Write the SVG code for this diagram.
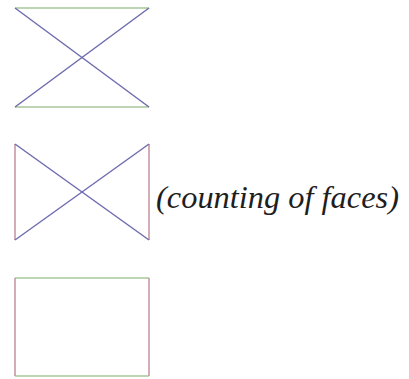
<svg xmlns="http://www.w3.org/2000/svg" width="409" height="379" viewBox="0 0 409 379">
<style>
.g{stroke:#a9c79a;stroke-width:1.7;fill:none}
.b{stroke:#6f6db0;stroke-width:1.5;fill:none}
.r{stroke:#c4929c;stroke-width:1.5;fill:none}
.t{font-family:'Liberation Serif','Times New Roman',Times,serif;font-style:italic;font-size:31px;fill:#1e1e1e}
</style>
<rect width="409" height="379" fill="#fff"/>
<g id="shape1">
<line class="g" x1="15" y1="8" x2="149" y2="8"/>
<line class="g" x1="15" y1="107" x2="149" y2="107"/>
<line class="b" x1="15" y1="8" x2="149" y2="107"/>
<line class="b" x1="149" y1="8" x2="15" y2="107"/>
</g>
<g id="shape2">
<line class="r" x1="15" y1="144" x2="15" y2="240"/>
<line class="r" x1="149" y1="144" x2="149" y2="240"/>
<line class="b" x1="15" y1="144" x2="149" y2="240"/>
<line class="b" x1="149" y1="144" x2="15" y2="240"/>
</g>
<g id="shape3">
<line class="g" x1="15" y1="278" x2="149" y2="278"/>
<line class="g" x1="15" y1="376" x2="149" y2="376"/>
<line class="r" x1="15" y1="278" x2="15" y2="376"/>
<line class="r" x1="149" y1="278" x2="149" y2="376"/>
</g>
<g id="label">
<text class="t" x="156" y="208" textLength="243" lengthAdjust="spacingAndGlyphs">(counting of faces)</text>
</g>
</svg>
